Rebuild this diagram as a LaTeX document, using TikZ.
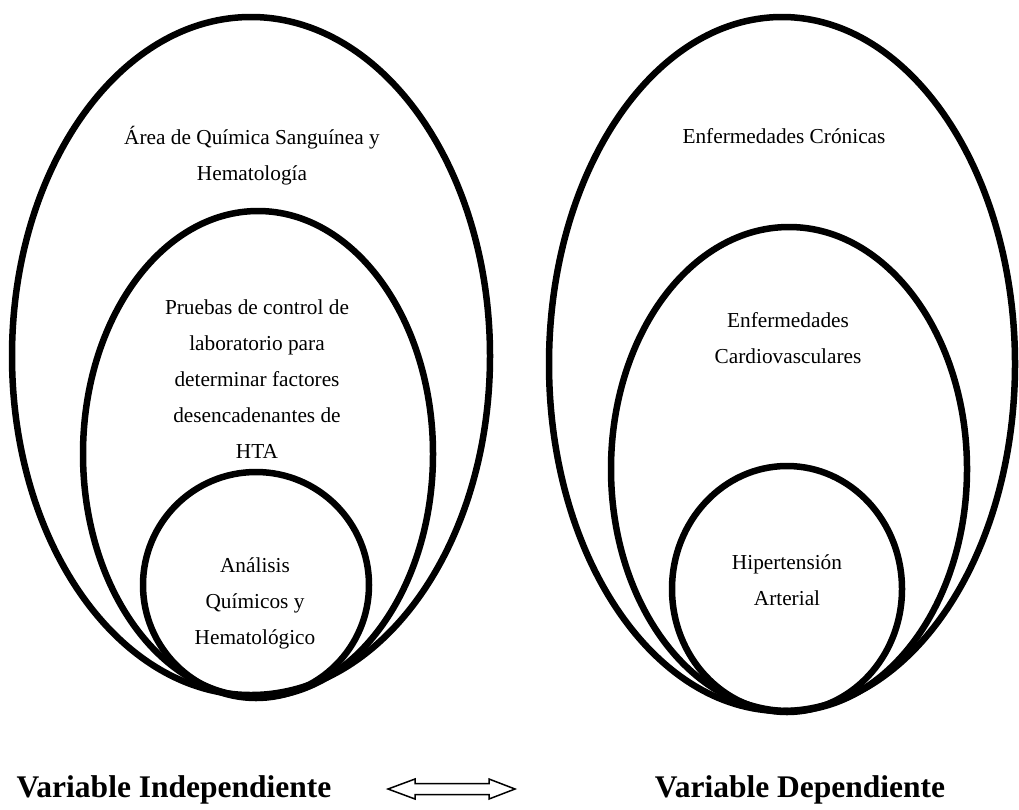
\documentclass[tikz,border=0pt]{standalone}
\usepackage{fontspec}
\setmainfont{Liberation Serif}
\begin{document}
\begin{tikzpicture}[x=1pt,y=-1pt,
  ring/.style={line width=6.5pt},
  lbl/.style={align=center,inner sep=0pt,font=\fontsize{21.3}{36}\selectfont},
  varlbl/.style={inner sep=0pt,font=\fontsize{31.5}{36}\selectfont\bfseries},
  bigarrow/.style={draw,line width=1.5pt,line join=miter,fill=white}]
\useasboundingbox (0,0) rectangle (1019,809);
% left group
\draw[ring] (251,356) ellipse [x radius=239, y radius=339];
\draw[ring] (258,454) ellipse [x radius=175, y radius=243];
\draw[ring] (256,585) ellipse [x radius=113, y radius=113];
% right group
\draw[ring] (782,364) ellipse [x radius=233, y radius=347];
\draw[ring] (789,469) ellipse [x radius=178, y radius=242];
\draw[ring] (787,589) ellipse [x radius=115, y radius=123];
% texts
\node[lbl] (t1) at (252,156) {Área de Química Sanguínea y\\Hematología};
\node[lbl] (t2) at (257,379) {Pruebas de control de\\laboratorio para\\determinar factores\\desencadenantes de\\HTA};
\node[lbl] (t3) at (255,603) {Análisis\\Químicos y\\Hematológico};
\node[lbl] (t4) at (784,136) {Enfermedades Crónicas};
\node[lbl] (t5) at (788,338) {Enfermedades\\Cardiovasculares};
\node[lbl] (t6) at (787,580) {Hipertensión\\Arterial};
\node[varlbl] (vi) at (174,790) {Variable Independiente};
\node[varlbl] (vd) at (800,790) {Variable Dependiente};
% double block arrow
\draw[bigarrow] (388,789) -- (415,779) -- (415,783.5) -- (489,783.5) -- (489,779)
  -- (515,789) -- (489,799) -- (489,794.5) -- (415,794.5) -- (415,799) -- cycle;
\end{tikzpicture}
\end{document}
